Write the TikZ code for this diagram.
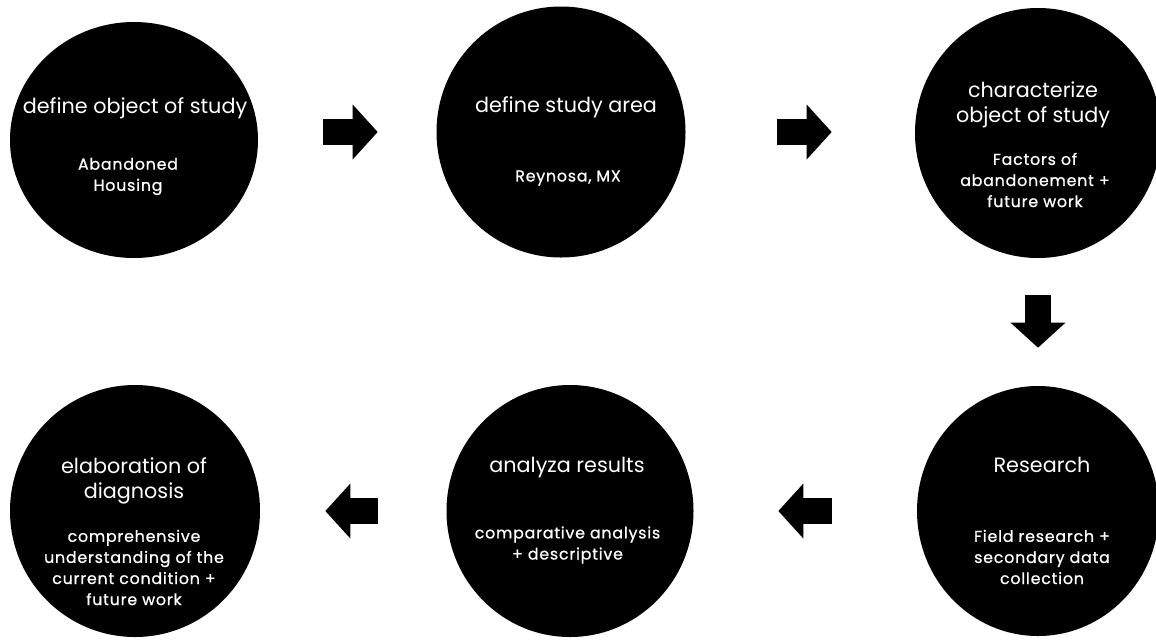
\documentclass[tikz,border=0pt]{standalone}
\usepackage{fontspec}
\setmainfont{Poppins}
\newfontfamily\subfont{Poppins}[FakeBold=0.8, LetterSpace=5]
\usetikzlibrary{arrows.meta,shapes.geometric}

\begin{document}
\begin{tikzpicture}[
  blob/.style = {ellipse, fill=black, inner sep=0pt},
  title/.style = {text=white, align=center, font=\fontsize{11.8}{14.2}\selectfont},
  sub/.style = {text=white, align=center, font=\subfont\fontsize{9}{12}\selectfont},
  flow/.style = {line width=0.53cm, -{Triangle[length=0.5cm, width=1.1cm, line width=0pt]}}
]

\useasboundingbox (0,0) rectangle (23.12,-12.78);

\node[blob, minimum width=4.96cm, minimum height=4.72cm] (def) at (2.68,-2.80) {};
\node[blob, minimum width=4.98cm, minimum height=5.02cm] (area) at (11.22,-2.64) {};
\node[blob, minimum width=4.92cm, minimum height=5.00cm] (char) at (20.76,-2.66) {};
\node[blob, minimum width=4.84cm, minimum height=5.00cm] (res) at (20.76,-10.22) {};
\node[blob, minimum width=4.94cm, minimum height=5.04cm] (ana) at (11.40,-10.22) {};
\node[blob, minimum width=5.00cm, minimum height=5.04cm] (diag) at (2.70,-10.22) {};

\node[title] (defT) at (2.70,-2.16) {define object of study};
\node[sub] (defS) at (2.56,-3.53) {Abandoned\\Housing};
\node[title] (areaT) at (11.32,-2.14) {define study area};
\node[sub] (areaS) at (11.36,-3.56) {Reynosa, MX};
\node[title] (charT) at (20.66,-2.09) {characterize\\object of study};
\node[sub] (charS) at (20.70,-3.60) {Factors of\\abandonement +\\future work};
\node[title] (resT) at (20.84,-9.30) {Research};
\node[sub] (resS) at (20.84,-11.14) {Field research +\\secondary data\\collection};
\node[title] (anaT) at (11.34,-9.34) {analyza results};
\node[sub] (anaS) at (11.35,-10.90) {comparative analysis\\+ descriptive};
\node[title] (diagT) at (2.68,-9.61) {elaboration of\\diagnosis};
\node[sub] (diagS) at (2.68,-11.35) {comprehensive\\understanding of the\\current condition +\\future work};

\draw[flow, shorten <=1.30cm, shorten >=1.17cm] (def.east |- area) -- (area.west);
\draw[flow, shorten <=1.83cm, shorten >=1.66cm] (area.east) -- (char.west |- area.east);
\draw[flow, shorten <=0.74cm, shorten >=0.76cm] (char.south) -- (res.north);
\draw[flow, shorten <=1.70cm, shorten >=1.69cm] (res.west) -- (ana.east);
\draw[flow, shorten <=1.37cm, shorten >=1.30cm] (ana.west) -- (diag.east);

\end{tikzpicture}
\end{document}
